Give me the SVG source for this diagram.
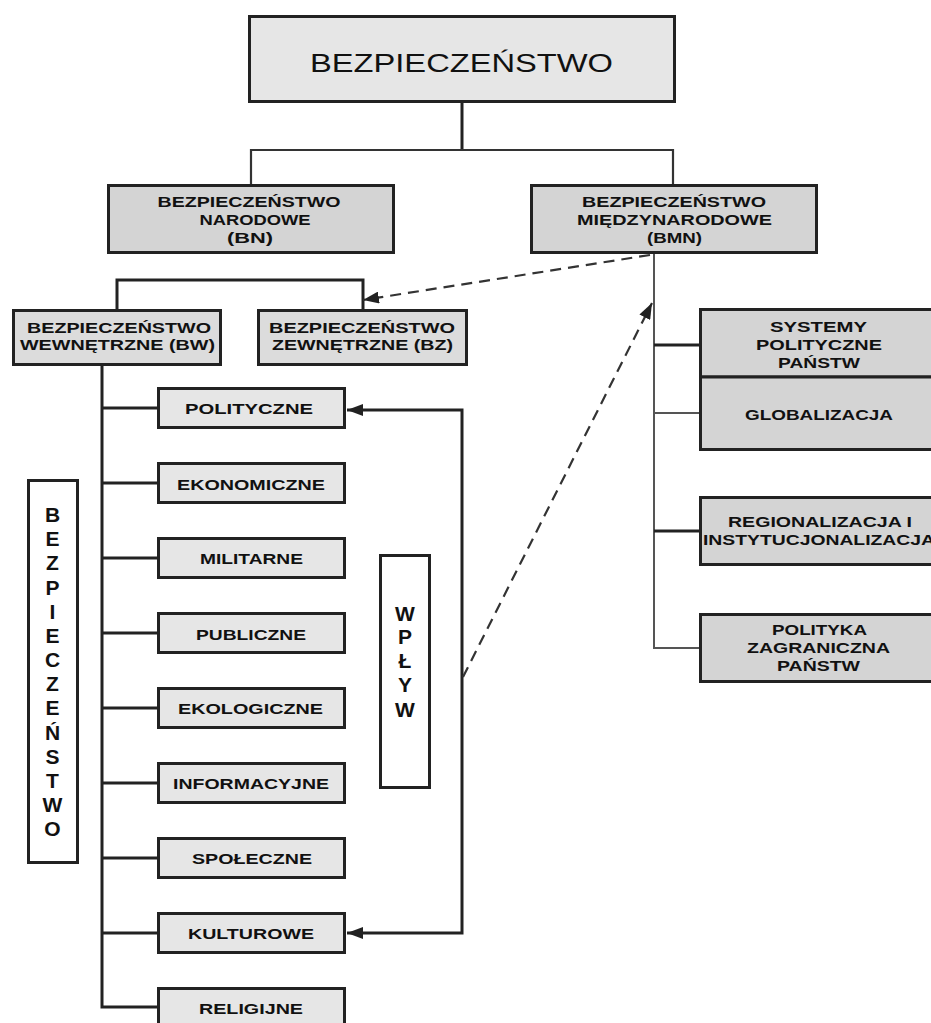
<svg xmlns="http://www.w3.org/2000/svg" width="931" height="1023" viewBox="0 0 931 1023">
<defs>
<style>
.box{stroke:#222;stroke-width:3}
.lt{fill:#e6e6e6}
.dk{fill:#d4d4d4}
.md{fill:#dcdcdc}
.wh{fill:#fff}
text{font-family:"Liberation Sans",Arial,sans-serif;fill:#111;text-anchor:middle}
.t{font-size:15.5px;font-weight:bold}
.big{font-size:26.5px}
.v{font-size:21px;font-weight:bold}
.ln{fill:none;stroke:#222;stroke-width:3}
.thin{fill:none;stroke:#333;stroke-width:2.2}
.gr{fill:none;stroke:#555;stroke-width:2}
.dash{fill:none;stroke:#333;stroke-width:2.2;stroke-dasharray:11 7}
</style>
<marker id="arr" viewBox="0 0 16 12" refX="16" refY="6" markerWidth="16" markerHeight="12" markerUnits="userSpaceOnUse" orient="auto"><path d="M0,0 L16,6 L0,12 z" fill="#222"/></marker>
</defs>

<g id="connectors">
<path class="ln" d="M462,102 V150"/>
<path class="thin" d="M251,184 V150 H673 V184"/>
<path class="ln" d="M117,309 V280 H363 V309"/>
<path class="ln" d="M102,366 V1007 H157 M102,408 H157 M102,483 H157 M102,558 H157 M102,633 H157 M102,708 H157 M102,783 H157 M102,858 H157 M102,933 H157"/>
<path class="gr" d="M654,253 V648 H699 M654,413 H699"/>
<path class="ln" d="M654,345 H699 M654,531 H699"/>
<path class="ln" d="M462,671 V410 H347" marker-end="url(#arr)"/>
<path class="ln" d="M462,671 V933 H347" marker-end="url(#arr)"/>
<path class="dash" d="M650,255 L363,300" marker-end="url(#arr)"/>
<path class="dash" d="M463,677 L652,303" marker-end="url(#arr)"/>
</g>

<g id="n-bezpieczenstwo">
<rect class="box lt" x="249.5" y="16.5" width="425" height="85"/>
<text class="big" x="461.5" y="72" textLength="303" lengthAdjust="spacingAndGlyphs">BEZPIECZEŃSTWO</text>
</g>

<g id="n-bn">
<rect class="box dk" x="108.5" y="185.5" width="285" height="67"/>
<text class="t" x="249" y="207" textLength="183" lengthAdjust="spacingAndGlyphs">BEZPIECZEŃSTWO</text>
<text class="t" x="255" y="225" textLength="111" lengthAdjust="spacingAndGlyphs">NARODOWE</text>
<text class="t" x="250" y="242.5" textLength="46" lengthAdjust="spacingAndGlyphs">(BN)</text>
</g>

<g id="n-bmn">
<rect class="box dk" x="531.5" y="185.5" width="285" height="67"/>
<text class="t" x="674" y="207" textLength="184" lengthAdjust="spacingAndGlyphs">BEZPIECZEŃSTWO</text>
<text class="t" x="674.5" y="225" textLength="195" lengthAdjust="spacingAndGlyphs">MIĘDZYNARODOWE</text>
<text class="t" x="674.5" y="242.5" textLength="55" lengthAdjust="spacingAndGlyphs">(BMN)</text>
</g>

<g id="n-bw">
<rect class="box md" x="13.5" y="310.5" width="207" height="54"/>
<text class="t" x="119" y="332.5" textLength="184" lengthAdjust="spacingAndGlyphs">BEZPIECZEŃSTWO</text>
<text class="t" x="117.5" y="349.5" textLength="195" lengthAdjust="spacingAndGlyphs">WEWNĘTRZNE (BW)</text>
</g>

<g id="n-bz">
<rect class="box md" x="258.5" y="310.5" width="208" height="54"/>
<text class="t" x="362" y="332.5" textLength="186" lengthAdjust="spacingAndGlyphs">BEZPIECZEŃSTWO</text>
<text class="t" x="362.5" y="349.5" textLength="181" lengthAdjust="spacingAndGlyphs">ZEWNĘTRZNE (BZ)</text>
</g>

<g id="n-polityczne">
<rect class="box lt" x="158.5" y="388.5" width="186" height="39"/>
<text class="t" x="249" y="414" textLength="128" lengthAdjust="spacingAndGlyphs">POLITYCZNE</text>
</g>
<g id="n-ekonomiczne">
<rect class="box lt" x="158.5" y="463.5" width="186" height="39"/>
<text class="t" x="251" y="490" textLength="148" lengthAdjust="spacingAndGlyphs">EKONOMICZNE</text>
</g>
<g id="n-militarne">
<rect class="box lt" x="158.5" y="538.5" width="186" height="39"/>
<text class="t" x="251.5" y="564" textLength="103" lengthAdjust="spacingAndGlyphs">MILITARNE</text>
</g>
<g id="n-publiczne">
<rect class="box lt" x="158.5" y="613.5" width="186" height="39"/>
<text class="t" x="251" y="639.5" textLength="110" lengthAdjust="spacingAndGlyphs">PUBLICZNE</text>
</g>
<g id="n-ekologiczne">
<rect class="box lt" x="158.5" y="688.5" width="186" height="39"/>
<text class="t" x="250.5" y="714" textLength="145" lengthAdjust="spacingAndGlyphs">EKOLOGICZNE</text>
</g>
<g id="n-informacyjne">
<rect class="box lt" x="158.5" y="763.5" width="186" height="39"/>
<text class="t" x="251" y="789" textLength="156" lengthAdjust="spacingAndGlyphs">INFORMACYJNE</text>
</g>
<g id="n-spoleczne">
<rect class="box lt" x="158.5" y="838.5" width="186" height="39"/>
<text class="t" x="252" y="863.5" textLength="120" lengthAdjust="spacingAndGlyphs">SPOŁECZNE</text>
</g>
<g id="n-kulturowe">
<rect class="box lt" x="158.5" y="913.5" width="186" height="39"/>
<text class="t" x="251" y="939" textLength="126" lengthAdjust="spacingAndGlyphs">KULTUROWE</text>
</g>
<g id="n-religijne">
<rect class="box lt" x="158.5" y="988.5" width="186" height="39"/>
<text class="t" x="251" y="1013.5" textLength="104" lengthAdjust="spacingAndGlyphs">RELIGIJNE</text>
</g>

<g id="n-bezpieczenstwo-vertical">
<rect class="box wh" x="28.5" y="480.5" width="49" height="382"/>
<text class="v" x="52.5" y="522">B</text>
<text class="v" x="52.5" y="546">E</text>
<text class="v" x="52.5" y="570">Z</text>
<text class="v" x="52.5" y="594.5">P</text>
<text class="v" x="52.5" y="618.5">I</text>
<text class="v" x="52.5" y="643">E</text>
<text class="v" x="52.5" y="667">C</text>
<text class="v" x="52.5" y="691">Z</text>
<text class="v" x="52.5" y="715">E</text>
<text class="v" x="52.5" y="739.5">Ń</text>
<text class="v" x="52.5" y="763.5">S</text>
<text class="v" x="52.5" y="788">T</text>
<text class="v" x="52.5" y="812">W</text>
<text class="v" x="52.5" y="836">O</text>
</g>

<g id="n-wplyw">
<rect class="box wh" x="380.5" y="555.5" width="49" height="232"/>
<text class="v" x="405" y="621">W</text>
<text class="v" x="405" y="644">P</text>
<text class="v" x="405" y="668">Ł</text>
<text class="v" x="405" y="692">Y</text>
<text class="v" x="405" y="717">W</text>
</g>

<g id="n-systemy">
<rect class="box dk" x="700.5" y="309.5" width="240" height="67.5"/>
<text class="t" x="818.5" y="332" textLength="97" lengthAdjust="spacingAndGlyphs">SYSTEMY</text>
<text class="t" x="819" y="350" textLength="126" lengthAdjust="spacingAndGlyphs">POLITYCZNE</text>
<text class="t" x="819" y="368" textLength="82" lengthAdjust="spacingAndGlyphs">PAŃSTW</text>
</g>
<g id="n-globalizacja">
<rect class="box dk" x="700.5" y="377" width="240" height="72.5"/>
<text class="t" x="819" y="420" textLength="148" lengthAdjust="spacingAndGlyphs">GLOBALIZACJA</text>
</g>
<g id="n-regionalizacja">
<rect class="box dk" x="700.5" y="497.5" width="240" height="67"/>
<text class="t" x="820" y="527" textLength="184" lengthAdjust="spacingAndGlyphs">REGIONALIZACJA I</text>
<text class="t" x="819" y="545" textLength="232" lengthAdjust="spacingAndGlyphs">INSTYTUCJONALIZACJA</text>
</g>
<g id="n-polityka">
<rect class="box dk" x="700.5" y="614.5" width="240" height="67"/>
<text class="t" x="819.5" y="635" textLength="95" lengthAdjust="spacingAndGlyphs">POLITYKA</text>
<text class="t" x="818.5" y="653" textLength="143" lengthAdjust="spacingAndGlyphs">ZAGRANICZNA</text>
<text class="t" x="818.5" y="671" textLength="83" lengthAdjust="spacingAndGlyphs">PAŃSTW</text>
</g>
</svg>
